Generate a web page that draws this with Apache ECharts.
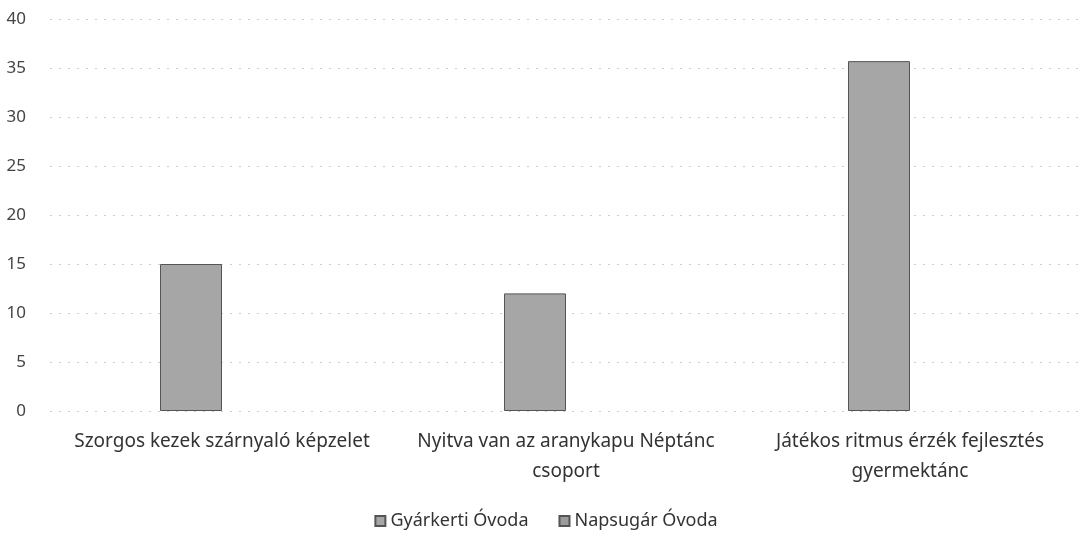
<!DOCTYPE html>
<html>
<head>
<meta charset="utf-8">
<script src="https://cdn.jsdelivr.net/npm/echarts@6/dist/echarts.min.js"></script>
<style>html,body{margin:0;padding:0;background:#fff}#c{width:1092px;height:545px}</style>
</head>
<body>
<div id="c"></div>
<script>
const categories = ['Szorgos kezek szárnyaló képzelet', 'Nyitva van az aranykapu Néptánc\ncsoport', 'Játékos ritmus érzék fejlesztés\ngyermektánc'];
const seriesNames = ['Gyárkerti Óvoda', 'Napsugár Óvoda'];
const gyarkerti = [15, 12, 35.7];
const napsugar = [null, null, null];
const yTicks = { min: 0, max: 40, interval: 5 };

const chart = echarts.init(document.getElementById('c'));
const font = 'Noto Sans, Open Sans, sans-serif';
chart.setOption({
  animation: false,
  textStyle: { fontFamily: font },
  grid: { left: 50, right: 10, top: 19, bottom: 134, containLabel: false },
  legend: {
    data: seriesNames, bottom: 10, left: 'center', itemWidth: 10, itemHeight: 10, itemGap: 30,
    icon: 'rect',
    textStyle: { fontSize: 18, color: '#333', fontFamily: font }
  },
  xAxis: {
    type: 'category', data: categories,
    axisLine: { show: false }, axisTick: { show: false },
    axisLabel: { fontSize: 19, color: '#333', margin: 16, lineHeight: 30, interval: 0 }
  },
  yAxis: {
    type: 'value', min: yTicks.min, max: yTicks.max, interval: yTicks.interval,
    axisLine: { show: false }, axisTick: { show: false },
    axisLabel: { fontSize: 17, color: '#444', margin: 24, align: 'right' },
    splitLine: { lineStyle: { color: '#cfcfcf', type: [2, 7], width: 1 } }
  },
  series: [
    { name: seriesNames[0], type: 'bar', data: gyarkerti, barWidth: 62, barGap: '0%',
      itemStyle: { color: '#a6a6a6', borderColor: '#555', borderWidth: 1 } },
    { name: seriesNames[1], type: 'bar', data: napsugar, barWidth: 62,
      itemStyle: { color: '#9c9c9c', borderColor: '#555', borderWidth: 1 } }
  ]
});
</script>
</body>
</html>
